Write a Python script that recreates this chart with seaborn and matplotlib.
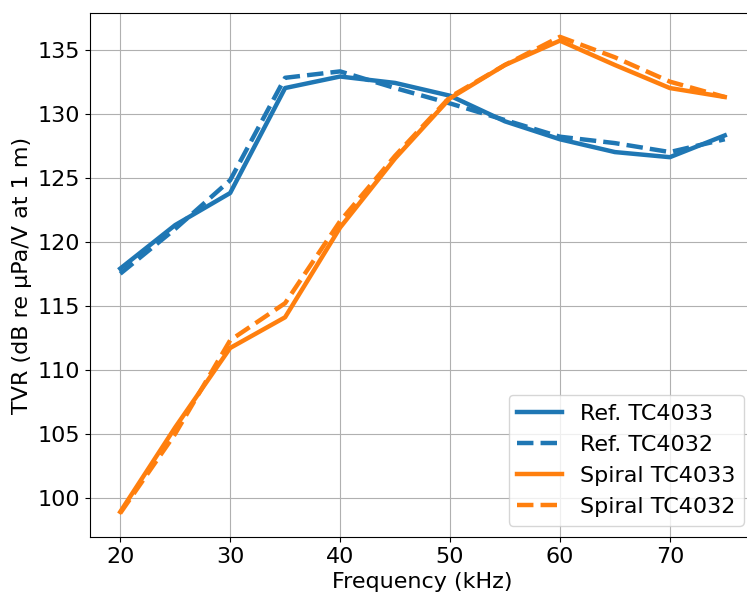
import matplotlib
matplotlib.use("Agg")
import matplotlib.pyplot as plt
import seaborn as sns
import pandas as pd

freq = [20, 25, 30, 35, 40, 45, 50, 55, 60, 65, 70, 75]
ref_tc4033 = [117.9, 121.3, 123.8, 132.0, 132.9, 132.4, 131.4, 129.4, 128.0, 127.0, 126.6, 128.3]
ref_tc4032 = [117.5, 121.0, 124.8, 132.8, 133.3, 132.0, 130.8, 129.5, 128.2, 127.7, 127.0, 128.0]
spiral_tc4033 = [98.9, 105.5, 111.7, 114.1, 121.1, 126.5, 131.2, 133.8, 135.7, 133.8, 132.0, 131.3]
spiral_tc4032 = [98.8, 105.0, 112.3, 115.2, 121.6, 126.7, 131.3, 133.8, 136.0, 134.4, 132.5, 131.3]

labels = ["Ref. TC4033", "Ref. TC4032", "Spiral TC4033", "Spiral TC4032"]
series = [ref_tc4033, ref_tc4032, spiral_tc4033, spiral_tc4032]
colors = ["#1f77b4", "#1f77b4", "#ff7f0e", "#ff7f0e"]
dashes = [False, True, False, True]

plt.rcParams['font.family'] = ['DejaVu Sans']
fig = plt.figure(figsize=(7.47, 5.94), dpi=100)
ax = fig.add_axes([90/747, 57/594, 665/747, 524/594])

for lab, vals, c, d in zip(labels, series, colors, dashes):
    df = pd.DataFrame({"f": freq, "v": vals})
    sns.lineplot(data=df, x="f", y="v", ax=ax, color=c, lw=3.2, label=lab,
                 linestyle="--" if d else "-")

ax.grid(True, color="#b0b0b0", lw=0.8)
ax.set_axisbelow(True)
ax.set_xlabel("Frequency (kHz)", fontsize=16)
ax.set_ylabel("TVR (dB re µPa/V at 1 m)", fontsize=16)
ax.tick_params(labelsize=16)
ax.set_yticks([100, 105, 110, 115, 120, 125, 130, 135])
ax.set_xticks([20, 30, 40, 50, 60, 70])
ax.legend(loc="lower right", fontsize=16)

fig.savefig("out.png", dpi=100)
